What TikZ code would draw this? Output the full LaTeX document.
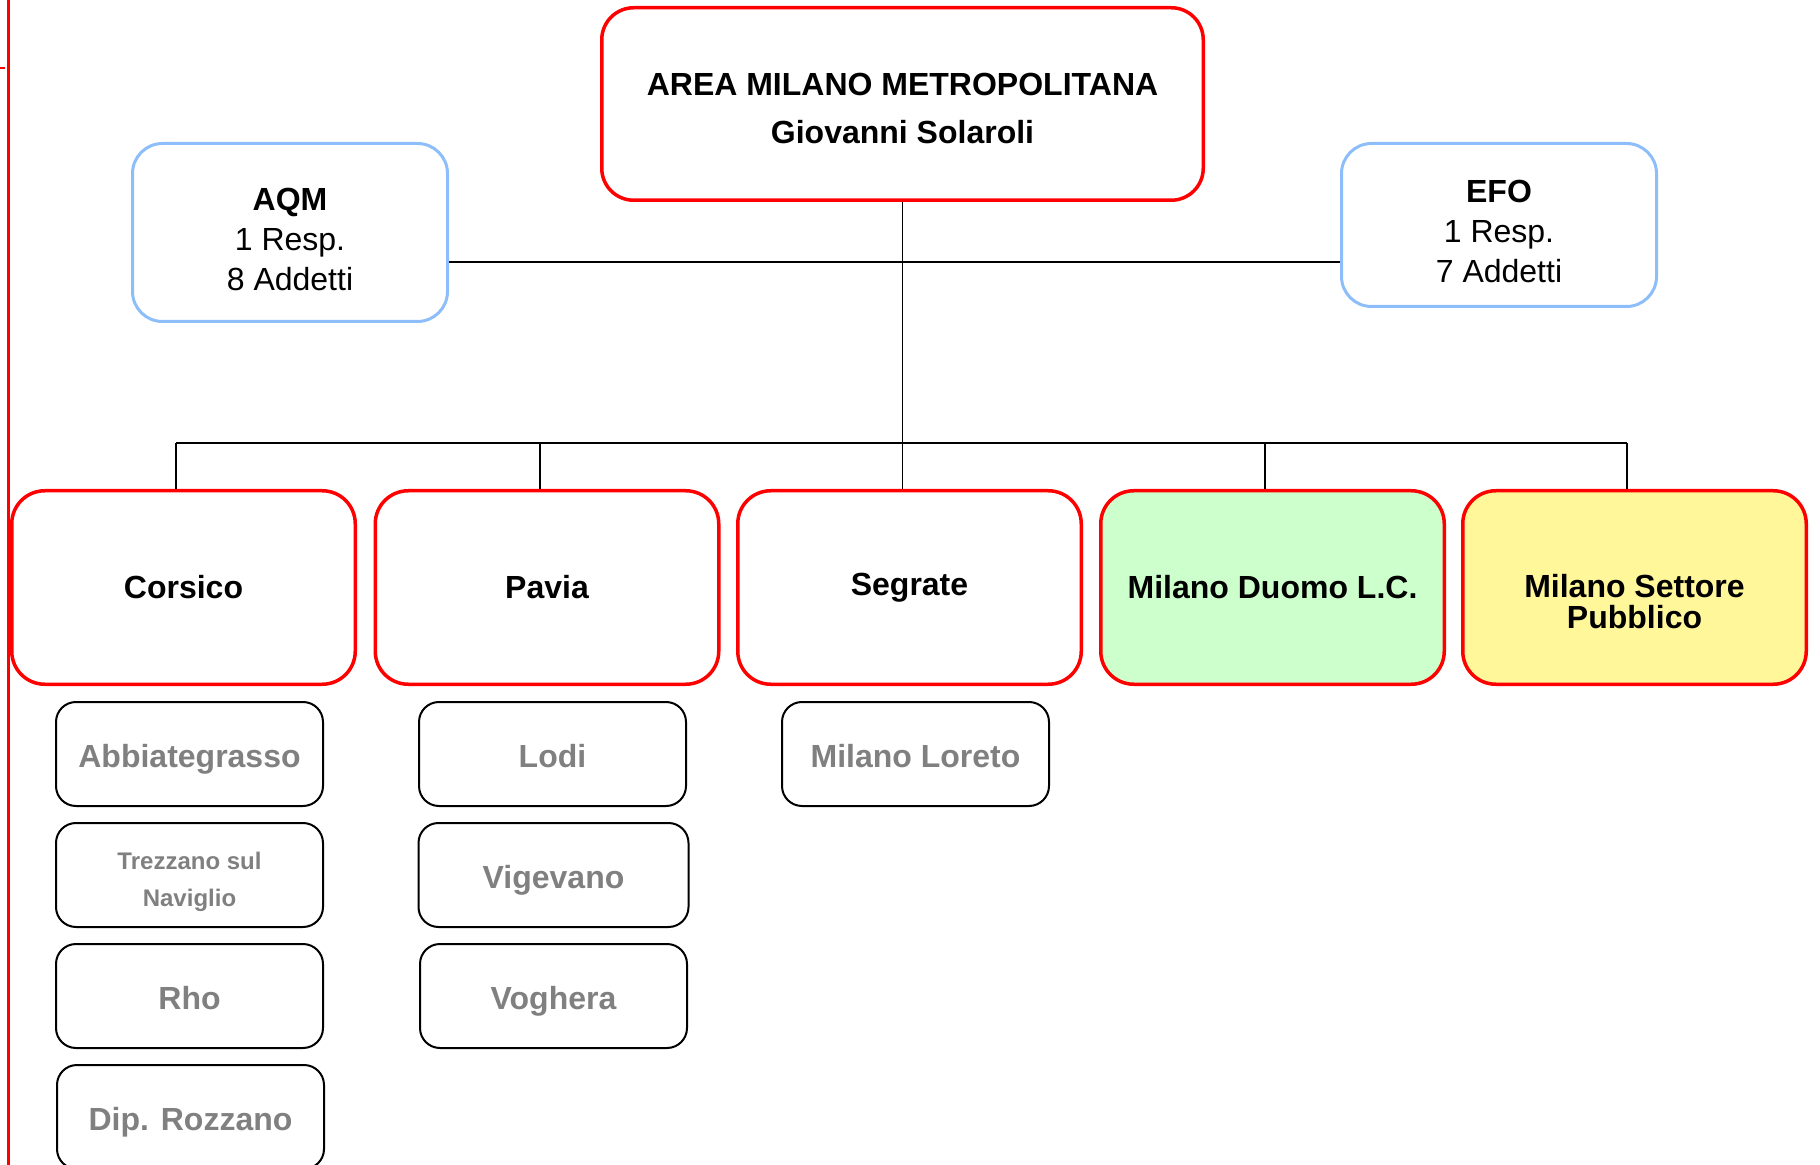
\documentclass[tikz,border=0pt]{standalone}
\usepackage{fontspec}
\setmainfont{Liberation Sans}
\definecolor{boxred}{HTML}{FF0000}
\definecolor{boxblue}{HTML}{8DBEFA}
\definecolor{fillgreen}{HTML}{CCFFCC}
\definecolor{fillyellow}{HTML}{FFF799}
\definecolor{subgray}{HTML}{808080}
% strut that lowers a multi-line label inside its box
\newcommand{\toppad}[1]{\rule{0pt}{#1}}
\begin{document}
\begin{tikzpicture}[x=0.5pt,y=-0.5pt,
  base/.style={rectangle, align=center, inner sep=0pt},
  headbox/.style={base, draw=boxred, line width=1.75pt, rounded corners=16pt,
    minimum width=300.75pt, minimum height=96.25pt,
    font=\fontsize{16}{24}\selectfont\bfseries},
  staffbox/.style={base, draw=boxblue, line width=1.5pt, rounded corners=15pt,
    minimum width=157.5pt, font=\fontsize{16}{20}\selectfont},
  unitbox/.style={base, draw=boxred, line width=1.75pt, rounded corners=16.5pt,
    minimum width=171.75pt, minimum height=96.75pt,
    font=\fontsize{16}{15.5}\selectfont\bfseries},
  subbox/.style={base, draw=black, line width=1pt, rounded corners=10pt,
    minimum width=133.5pt, minimum height=52pt, text=subgray,
    font=\fontsize{16}{19}\selectfont\bfseries},
  oneline/.style={text height=14.5pt, text depth=1.5pt},
  link/.style={draw=black, line width=0.9pt}
]
\useasboundingbox (0,0) rectangle (1820,1165);

% left margin rule
\draw[boxred, line width=1.5pt] (8,0) -- (8,1165);
\draw[boxred, line width=1pt] (0,68) -- (5,68);

% head of the area
\node[headbox] (top) at (902.5,104)
  {\toppad{15.5pt}AREA MILANO METROPOLITANA\\Giovanni Solaroli};

% staff offices
\node[staffbox, minimum height=89pt] (aqm) at (290,232.5)
  {\toppad{18.5pt}{\bfseries AQM}\\1 Resp.\\8 Addetti};
\node[staffbox, minimum height=81.5pt] (efo) at (1499,225)
  {\toppad{17.5pt}{\bfseries EFO}\\1 Resp.\\7 Addetti};

% operating units
\node[unitbox] (corsico) at (183.5,587.5) {Corsico};
\node[unitbox] (pavia) at (547,587.5) {Pavia};
\node[unitbox] (segrate) at (909.5,587.5) {Segrate};
\node[unitbox, fill=fillgreen] (duomo) at (1272.5,587.5) {Milano Duomo L.C.};
\node[unitbox, fill=fillyellow] (settore) at (1634.5,587.5)
  {\toppad{25.5pt}Milano Settore\\Pubblico};

% branches
\begin{scope}
\clip (0,0) rectangle (1820,1165);
\node[subbox, oneline] (abbiate) at (189.5,754) {Abbiategrasso};
\node[subbox, font=\fontsize{12}{18.5}\selectfont\bfseries] (trezzano) at (189.5,875)
  {\toppad{15.8pt}Trezzano sul\\Naviglio};
\node[subbox, oneline] (rho) at (189.5,996) {Rho};
\node[subbox, oneline] (rozzano) at (190.5,1117) {Dip. Rozzano};
\node[subbox, oneline] (lodi) at (552.5,754) {Lodi};
\node[subbox, oneline, minimum width=135pt] (vigevano) at (553.5,875) {Vigevano};
\node[subbox, oneline] (voghera) at (553.5,996) {Voghera};
\node[subbox, oneline] (loreto) at (915.5,754) {Milano Loreto};
\end{scope}

% connectors
\coordinate (staffbus) at (902,262);
\coordinate (b1) at (176,443);
\coordinate (b2) at (540,443);
\coordinate (b3) at (902,443);
\coordinate (b4) at (1265,443);
\coordinate (b5) at (1627,443);

\draw[link] (aqm.east |- staffbus) -- (efo.west |- staffbus);
\draw[link] (top.south) -- (top.south |- segrate.north);
\draw[link] (b1) -- (b5);
\draw[link] (b1) -- (b1 |- corsico.north);
\draw[link] (b2) -- (b2 |- pavia.north);
\draw[link] (b4) -- (b4 |- duomo.north);
\draw[link] (b5) -- (b5 |- settore.north);
\end{tikzpicture}
\end{document}
